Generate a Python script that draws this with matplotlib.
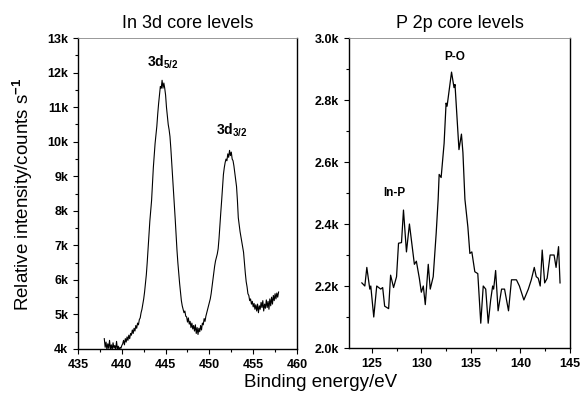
import matplotlib
matplotlib.use("Agg")
import matplotlib.pyplot as plt
from matplotlib.ticker import MultipleLocator, FuncFormatter
import numpy as np

plt.rcParams['font.family'] = ['Liberation Sans', 'DejaVu Sans']
plt.rcParams['font.weight'] = 'bold'
plt.rcParams['mathtext.fontset'] = 'custom'
plt.rcParams['mathtext.rm'] = 'Liberation Sans'
plt.rcParams['mathtext.bf'] = 'Liberation Sans:bold'

# ---- In 3d data (binding energy eV, intensity in k counts/s) ----
in3d_start = 438.0
in3d_step = 0.1
in3d_values = [
    4.30, 4.05, 4.20, 3.98, 4.15, 4.02, 4.25, 4.00, 4.12, 3.97,
    4.18, 4.03, 4.10, 3.98, 4.22, 4.00, 4.08, 3.96, 4.05, 4.02, 4.10,
    4.15, 4.25, 4.12, 4.30, 4.20, 4.35, 4.25, 4.40, 4.30, 4.45,
    4.40, 4.55, 4.45, 4.60, 4.52, 4.68, 4.60, 4.75, 4.70, 4.85,
    4.90, 5.05, 5.15, 5.30, 5.45, 5.65, 5.90, 6.15, 6.50, 6.90,
    7.30, 7.70, 8.00, 8.30, 8.80, 9.25, 9.60, 9.95, 10.20, 10.45,
    10.80, 11.10, 11.35, 11.60, 11.55, 11.78, 11.55, 11.70, 11.55, 11.35,
    11.00, 10.75, 10.50, 10.35, 10.15, 9.80, 9.40, 9.00, 8.60, 8.20,
    7.75, 7.30, 6.86, 6.50, 6.20, 5.90, 5.65, 5.40, 5.25, 5.15,
    5.05, 5.10, 4.95, 4.93, 4.78, 4.90, 4.72, 4.80, 4.62, 4.75,
    4.58, 4.68, 4.52, 4.70, 4.45, 4.62, 4.42, 4.60, 4.50, 4.68,
    4.55, 4.75, 4.70, 4.88, 4.80, 4.95, 5.05, 5.15, 5.25, 5.35,
    5.45, 5.60, 5.80, 6.00, 6.20, 6.40, 6.55, 6.65, 6.75, 6.90,
    7.20, 7.60, 7.95, 8.30, 8.70, 9.05, 9.25, 9.40, 9.50, 9.45,
    9.65, 9.55, 9.75, 9.60, 9.70, 9.50, 9.45, 9.30, 9.10, 8.90,
    8.70, 8.30, 7.80, 7.60, 7.40, 7.25, 7.10, 6.95, 6.80, 6.50,
    6.20, 5.95, 5.80, 5.60, 5.55, 5.40, 5.45, 5.30, 5.38, 5.22,
    5.32, 5.15, 5.28, 5.10, 5.30, 5.05, 5.25, 5.15, 5.35, 5.20,
    5.40, 5.10, 5.30, 5.18, 5.42, 5.20, 5.38, 5.15, 5.45, 5.25,
    5.50, 5.30, 5.55, 5.40, 5.60, 5.45, 5.62, 5.50, 5.65,
]
in3d_energy = in3d_start + in3d_step * np.arange(len(in3d_values))

# ---- P 2p data ----
p2p_energy = [124.0, 124.3, 124.5, 124.8, 124.9, 125.2, 125.5, 125.9, 126.1, 126.3,
              126.7, 126.9, 127.2, 127.5, 127.7, 128.0, 128.2, 128.5, 128.8, 129.3,
              129.5, 129.8, 130.0, 130.2, 130.4, 130.7, 130.9, 131.2, 131.5, 131.7,
              131.8, 132.0, 132.3, 132.5, 132.6, 133.05, 133.3, 133.4, 133.8, 134.05,
              134.2, 134.4, 134.7, 134.9, 135.1, 135.4, 135.7, 136.0, 136.25, 136.5,
              136.75, 137.0, 137.2, 137.3, 137.5, 137.75, 138.1, 138.4, 138.8, 139.1,
              139.6, 139.9, 140.35, 140.8, 141.1, 141.4, 141.6, 141.8, 142.0, 142.2,
              142.45, 142.7, 143.0, 143.4, 143.6, 143.85, 144.0]
p2p_values = [2.21, 2.20, 2.26, 2.19, 2.20, 2.10, 2.20, 2.19, 2.195, 2.135,
              2.127, 2.235, 2.195, 2.23, 2.338, 2.34, 2.445, 2.31, 2.40, 2.27,
              2.28, 2.225, 2.18, 2.20, 2.14, 2.27, 2.19, 2.23, 2.37, 2.48,
              2.56, 2.55, 2.66, 2.79, 2.78, 2.89, 2.84, 2.85, 2.64, 2.69,
              2.63, 2.48, 2.39, 2.305, 2.31, 2.246, 2.24, 2.08, 2.20, 2.19,
              2.08, 2.155, 2.20, 2.19, 2.25, 2.12, 2.19, 2.19, 2.12, 2.22,
              2.22, 2.20, 2.155, 2.19, 2.22, 2.26, 2.23, 2.225, 2.20, 2.316,
              2.21, 2.225, 2.30, 2.30, 2.26, 2.327, 2.21]

fig = plt.figure(figsize=(5.83, 3.96), dpi=100)
ax1 = fig.add_axes([0.1338, 0.1187, 0.3756, 0.785])
ax2 = fig.add_axes([0.5986, 0.1212, 0.379, 0.7828])

def style(ax):
    ax.tick_params(direction='out', which='both', top=False, right=False,
                   labelsize=9, width=0.8)
    ax.tick_params(which='major', length=3.5)
    ax.tick_params(which='minor', length=2)
    for s in ['left', 'bottom', 'right']:
        ax.spines[s].set_linewidth(1.0)
    ax.spines['top'].set_linewidth(0.6)
    ax.spines['top'].set_color('#888888')

ax1.plot(in3d_energy, in3d_values, color='black', lw=0.8)
ax1.set_xlim(435, 460)
ax1.set_ylim(4, 13)
ax1.xaxis.set_major_locator(MultipleLocator(5))
ax1.xaxis.set_minor_locator(MultipleLocator(2.5))
ax1.yaxis.set_major_locator(MultipleLocator(1))
ax1.yaxis.set_minor_locator(MultipleLocator(0.5))
ax1.yaxis.set_major_formatter(FuncFormatter(lambda v, p: f"{v:.0f}k"))
style(ax1)
ax1.set_title("In 3d core levels", fontsize=13, pad=7, fontweight='normal')
ax1.text(444.7, 12.3, r'$\mathbf{3d_{5/2}}$', ha='center', va='center', fontsize=10)
ax1.text(452.6, 10.33, r'$\mathbf{3d_{3/2}}$', ha='center', va='center', fontsize=10)

ax2.plot(p2p_energy, p2p_values, color='black', lw=0.9)
ax2.set_xlim(122.7, 145)
ax2.set_ylim(2.0, 3.0)
ax2.xaxis.set_major_locator(MultipleLocator(5))
ax2.xaxis.set_minor_locator(MultipleLocator(2.5))
ax2.yaxis.set_major_locator(MultipleLocator(0.2))
ax2.yaxis.set_minor_locator(MultipleLocator(0.1))
ax2.yaxis.set_major_formatter(FuncFormatter(lambda v, p: f"{v:.1f}k"))
style(ax2)
ax2.set_title("P 2p core levels", fontsize=13, pad=7, fontweight='normal')
ax2.text(133.4, 2.94, 'P-O', ha='center', va='center', fontsize=8.5, fontweight='bold')
ax2.text(127.3, 2.50, 'In-P', ha='center', va='center', fontsize=8.5, fontweight='bold')

fig.text(0.549, 0.035, "Binding energy/eV", ha='center', va='center', fontsize=13.5,
         fontweight='normal')
fig.text(0.038, 0.51, r"Relative intensity/counts s$^{-1}$", ha='center', va='center',
         rotation=90, fontsize=13.5, fontweight='normal')

fig.savefig("out.png", dpi=100)
